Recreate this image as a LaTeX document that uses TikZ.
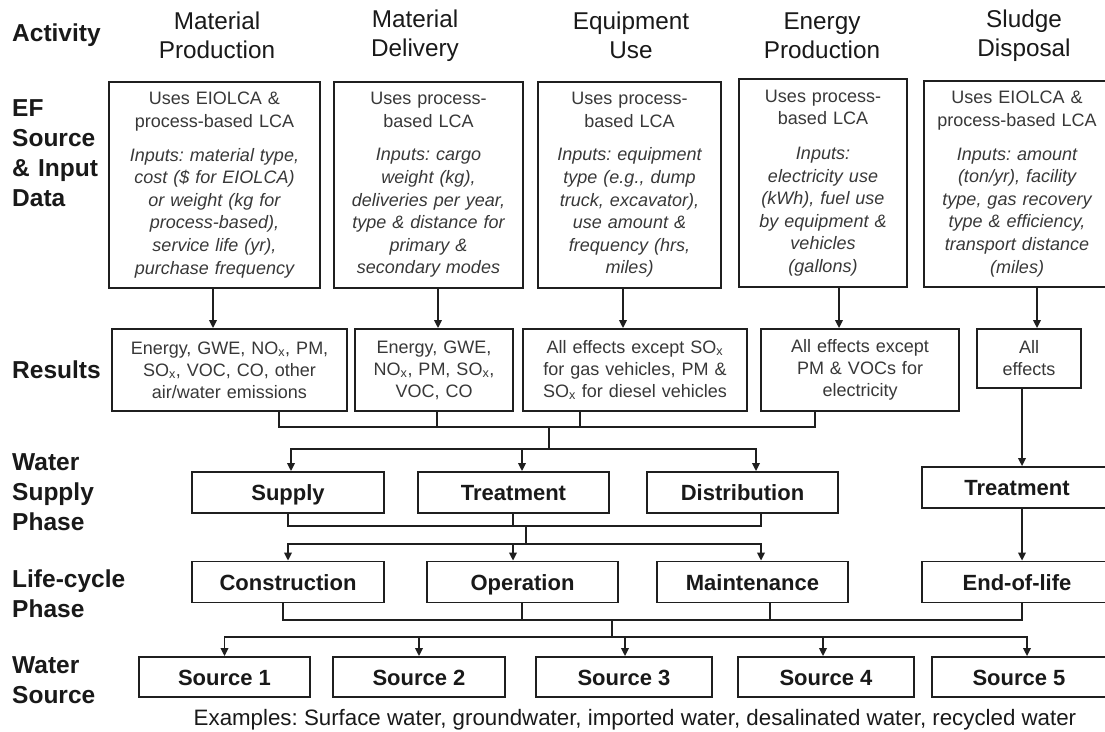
\documentclass[tikz,border=0pt]{standalone}
\usepackage{fontspec}
\setmainfont{Liberation Sans}
\usetikzlibrary{arrows.meta,calc}
\frenchspacing
\begin{document}
\begin{tikzpicture}[x=1pt,y=-1pt,
  ln/.style={line width=1.8pt, draw=black!88},
  arr/.style={ln, -{Triangle[length=8pt,width=7.5pt]}},
  box/.style={draw=black!88, line width=1.8pt, inner sep=0pt, align=center},
  efb/.style={box, font=\frenchspacing\fontsize{18}{22.6}\selectfont, text=black!78, minimum height=206pt},
  resb/.style={box, font=\frenchspacing\fontsize{18}{22}\selectfont, text=black!78, minimum height=82pt},
  lab/.style={box, font=\fontsize{22}{26}\selectfont\bfseries, text=black!90, minimum height=41pt, text height=16pt, text depth=0pt},
  hdr/.style={font=\fontsize{24.3}{29}\selectfont, align=center, text=black!90, text width=170pt, inner sep=0pt},
  side/.style={font=\fontsize{24.5}{30}\selectfont\bfseries, align=left, text=black!90, text width=135pt, inner sep=0pt, anchor=west},
]
\fill[white] (0,0) rectangle (1105,731);
\useasboundingbox (0,0) rectangle (1105,731);

% headers
\node[hdr] (hA) at (217,35.5) {Material\\Production};
\node[hdr] (hB) at (415,35.5) {Material\\Delivery};
\node[hdr] (hC) at (631,35.5) {Equipment\\Use};
\node[hdr] (hD) at (822,35.5) {Energy\\Production};
\node[hdr] (hE) at (1024,35.5) {Sludge\\Disposal};

% side labels
\node[side] (lAct) at (12,35) {Activity};
\node[side] (lEF) at (12,153.5) {EF\\Source\\\& Input\\Data};
\node[side] (lRes) at (12,370) {Results};
\node[side] (lWS) at (12,492) {Water\\Supply\\Phase};
\node[side] (lLC) at (12,594) {Life-cycle\\Phase};
\node[side] (lSrc) at (12,680) {Water\\Source};

% EF boxes
\node[efb, minimum width=211pt, text width=205pt] (ef1) at (214.5,185)
  {Uses EIOLCA \&\\process-based LCA\\[11pt]\itshape Inputs: material type,\\cost (\$ for EIOLCA)\\or weight (kg for\\process-based),\\service life (yr),\\purchase frequency};
\node[efb, minimum width=189pt, text width=185pt] (ef2) at (428.5,185)
  {Uses process-\\based LCA\\[11pt]\itshape Inputs: cargo\\weight (kg),\\deliveries per year,\\type \& distance for\\primary \&\\secondary modes};
\node[efb, minimum width=183pt, text width=179pt] (ef3) at (629.5,185)
  {Uses process-\\based LCA\\[11pt]\itshape Inputs: equipment\\type (e.g., dump\\truck, excavator),\\use amount \&\\frequency (hrs,\\miles)};
\node[efb, minimum width=168pt, minimum height=208pt, text width=164pt] (ef4) at (823,183)
  {Uses process-\\based LCA\\[12pt]\itshape Inputs:\\electricity use\\(kWh), fuel use\\by equipment \&\\vehicles\\(gallons)};
\node[efb, minimum width=186pt, text width=182pt] (ef5) at (1017,184)
  {Uses EIOLCA \&\\process-based LCA\\[11pt]\itshape Inputs: amount\\(ton/yr), facility\\type, gas recovery\\type \& efficiency,\\transport distance\\(miles)};

% results boxes
\node[resb, minimum width=235pt, text width=231pt] (r1) at (229.5,370)
  {Energy, GWE, NO\textsubscript{x}, PM,\\SO\textsubscript{x}, VOC, CO, other\\air/water emissions};
\node[resb, minimum width=158pt, text width=154pt] (r2) at (434,370)
  {Energy, GWE,\\NO\textsubscript{x}, PM, SO\textsubscript{x},\\VOC, CO};
\node[resb, minimum width=224pt, text width=222pt] (r3) at (635,370)
  {All effects except SO\textsubscript{x}\\for gas vehicles, PM \&\\SO\textsubscript{x} for diesel vehicles};
\node[resb, minimum width=198pt, text width=194pt] (r4) at (860,370)
  {All effects except\\PM \& VOCs for\\electricity};
\node[resb, minimum width=104pt, minimum height=59pt, text width=100pt] (r5) at (1029,358.5)
  {All\\effects};

% water supply phase
\node[lab, minimum width=192pt] (ws1) at (288,492.5) {Supply};
\node[lab, minimum width=191pt] (ws2) at (513.5,492.5) {Treatment};
\node[lab, minimum width=191pt] (ws3) at (742.5,492.5) {Distribution};
\node[lab, minimum width=190pt] (st) at (1017,487.5) {Treatment};

% life-cycle phase
\node[lab, minimum width=192pt] (lc1) at (288,582) {Construction};
\node[lab, minimum width=191pt] (lc2) at (522.5,582) {Operation};
\node[lab, minimum width=191pt] (lc3) at (752.5,582) {Maintenance};
\node[lab, minimum width=190pt] (lc4) at (1017,582) {End-of-life};

% sources
\node[lab, minimum width=171pt, minimum height=40pt] (s1) at (224.5,677) {Source 1};
\node[lab, minimum width=172pt, minimum height=40pt] (s2) at (419,677) {Source 2};
\node[lab, minimum width=176pt, minimum height=40pt] (s3) at (624,677) {Source 3};
\node[lab, minimum width=176pt, minimum height=40pt] (s4) at (826,677) {Source 4};
\node[lab, minimum width=174pt, minimum height=40pt] (s5) at (1019,677) {Source 5};

\node[font=\fontsize{22.3}{26}\selectfont, text=black!90, inner sep=0pt] (ex) at (635,720)
  {Examples: Surface water, groundwater, imported water, desalinated water, recycled water};

% EF -> results
\draw[arr] ([xshift=-1.5pt]ef1.south) -- ([xshift=-1.5pt]ef1.south |- r1.north);
\draw[arr] ([xshift=9.5pt]ef2.south) -- ([xshift=9.5pt]ef2.south |- r2.north);
\draw[arr] ([xshift=-6.5pt]ef3.south) -- ([xshift=-6.5pt]ef3.south |- r3.north);
\draw[arr] ([xshift=16pt]ef4.south) -- ([xshift=16pt]ef4.south |- r4.north);
\draw[arr] ([xshift=20pt]ef5.south) -- ([xshift=20pt]ef5.south |- r5.north);

% results -> water supply phase
\coordinate (m1) at (549,427);
\coordinate (d1) at (549,449);
\draw[ln] ([xshift=49.5pt]r1.south) |- (m1);
\draw[ln] ([xshift=-45pt]r4.south) |- (m1);
\draw[ln] ([xshift=3pt]r2.south) -- ([xshift=3pt]r2.south |- m1);
\draw[ln] ([xshift=-55pt]r3.south) -- ([xshift=-55pt]r3.south |- m1);
\draw[ln] (m1) -- (d1);
\draw[arr] (d1) -| ([xshift=3pt]ws1.north);
\draw[arr] (d1) -| ([xshift=8.5pt]ws2.north);
\draw[arr] (d1) -| ([xshift=13.5pt]ws3.north);

% water supply -> life-cycle
\coordinate (m2) at (526,526);
\coordinate (d2) at (526,544);
\draw[ln] (ws1.south) |- (m2);
\draw[ln] ([xshift=18.5pt]ws3.south) |- (m2);
\draw[ln] ([xshift=-0.5pt]ws2.south) -- ([xshift=-0.5pt]ws2.south |- m2);
\draw[ln] (m2) -- (d2);
\draw[arr] (d2) -| (lc1.north);
\draw[arr] (d2) -| ([xshift=-9.5pt]lc2.north);
\draw[arr] (d2) -| ([xshift=8.5pt]lc3.north);

% sludge column
\draw[arr] ([xshift=-7pt]r5.south) -- ([xshift=-7pt]r5.south |- st.north);
\draw[arr] ([xshift=5pt]st.south) -- ([xshift=5pt]st.south |- lc4.north);

% life-cycle -> sources
\coordinate (m3) at (612,620);
\coordinate (d3) at (612,637);
\draw[ln] ([xshift=-5pt]lc1.south) |- (m3);
\draw[ln] ([xshift=5pt]lc4.south) |- (m3);
\draw[ln] ([xshift=-0.5pt]lc2.south) -- ([xshift=-0.5pt]lc2.south |- m3);
\draw[ln] ([xshift=17.5pt]lc3.south) -- ([xshift=17.5pt]lc3.south |- m3);
\draw[ln] (m3) -- (d3);
\draw[arr] (d3) -| (s1.north);
\draw[arr] (d3) -| (s2.north);
\draw[arr] (d3) -| ([xshift=1pt]s3.north);
\draw[arr] (d3) -| ([xshift=-3pt]s4.north);
\draw[arr] (d3) -| ([xshift=8pt]s5.north);
\end{tikzpicture}
\end{document}
